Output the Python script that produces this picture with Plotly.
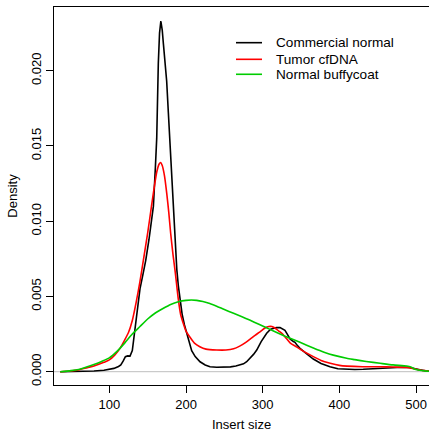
import plotly.graph_objects as go

# Commercial normal (black)
commercial_x = [36, 50, 60, 71, 80, 93, 100, 106, 112, 115, 118, 121, 124, 127, 130, 132, 134.4, 137, 140, 144,
                147.5, 151.8, 155, 157.5, 160, 161.8, 163.9, 165.5, 167.2, 169, 170.5, 172.5, 174.8, 177, 179.1,
                181, 183, 185.7, 188, 190, 192.2, 195, 198, 200.9, 204, 207.4, 212, 218.3, 225, 231.3, 240, 248.6,
                258, 265, 270.4, 275, 279.1, 284, 288, 292.2, 298, 305.2, 310, 313.8, 318, 322.6, 326, 329, 332,
                335.6, 340, 342.1, 345, 348.6, 357, 366, 376, 387.7, 398, 409.5, 420, 431, 442, 453, 464, 474.7,
                482, 489.8, 496, 505, 513.8, 518]
commercial_y = [0, 0.00001, 0.00002, 0.00003, 0.00005, 0.0001, 0.00014, 0.00022, 0.00035, 0.00045, 0.0007, 0.001,
                0.00105, 0.00104, 0.0014, 0.0022, 0.0032, 0.0044, 0.0055, 0.0065, 0.0074, 0.0088, 0.0100, 0.0110,
                0.0135, 0.0155, 0.0205, 0.0225, 0.0233, 0.0227, 0.0218, 0.0207, 0.0193, 0.0172, 0.0152, 0.0128,
                0.0107, 0.0085, 0.0068, 0.0057, 0.0048, 0.0038, 0.0031, 0.0026, 0.0019, 0.0014, 0.0010, 0.00066,
                0.00045, 0.00033, 0.0003, 0.00029, 0.00032, 0.00038, 0.00045, 0.00052, 0.00066, 0.0009, 0.00115,
                0.00144, 0.0020, 0.00255, 0.0028, 0.00288, 0.00293, 0.00293, 0.00285, 0.00275, 0.0025, 0.00218,
                0.0020, 0.00195, 0.00175, 0.00155, 0.0012, 0.00084, 0.00055, 0.00033, 0.0002, 0.00016, 0.00015,
                0.00016, 0.0002, 0.00023, 0.00027, 0.00029, 0.0003, 0.00029, 0.0002, 0.00012, 0.00005, 0.00002]

# Tumor cfDNA (red)
tumor_x = [36, 50, 60, 71.3, 80, 93, 100, 107, 114, 120, 125, 130, 135, 140, 145, 150, 155, 159, 162, 165, 167,
           169, 172, 175, 177.5, 180, 183, 186, 190, 193, 196.5, 200, 205, 211, 218, 226, 240, 252, 262, 270, 278,
           284, 290, 296.5, 303, 308, 312, 316, 321, 326, 331, 336, 344, 355, 366, 376, 388, 400, 410, 430, 453,
           470, 487.7, 495, 500.8, 507, 513.8, 518]
tumor_y = [0, 0.00005, 0.00012, 0.00027, 0.00038, 0.00062, 0.00078, 0.0011, 0.00155, 0.0021, 0.0026, 0.0034,
           0.0046, 0.0060, 0.0076, 0.0092, 0.0110, 0.0124, 0.0133, 0.0138, 0.0139, 0.0137, 0.0130, 0.0118, 0.0106,
           0.0092, 0.0078, 0.0066, 0.0048, 0.0038, 0.0032, 0.0027, 0.0023, 0.0019, 0.00166, 0.0015, 0.00144,
           0.00144, 0.00152, 0.0017, 0.00195, 0.00218, 0.00242, 0.00265, 0.0029, 0.0030, 0.0030, 0.0029, 0.0027,
           0.0025, 0.0022, 0.0019, 0.00165, 0.0013, 0.001, 0.00075, 0.00056, 0.00042, 0.00037, 0.00033, 0.00033,
           0.00031, 0.00029, 0.00022, 0.00016, 0.0001, 0.00006, 0.00003]

# Normal buffycoat (green)
buffy_x = [36, 50, 60, 71.3, 80, 90, 100, 110, 120, 130, 140, 150, 160, 170, 180, 190, 200, 207, 214, 222, 231,
           240, 250, 262, 273, 283, 295, 305, 314, 322.6, 335.6, 348.6, 366, 380, 392, 409.5, 420, 435, 453, 470,
           487.7, 493, 496, 500.8, 507, 513.8, 518]
buffy_y = [0, 0.00007, 0.00015, 0.00033, 0.00048, 0.00068, 0.00092, 0.00135, 0.0019, 0.0025, 0.0030, 0.0035,
           0.0039, 0.0042, 0.00447, 0.00465, 0.00474, 0.00476, 0.00474, 0.00466, 0.00453, 0.00435, 0.00413,
           0.00388, 0.00365, 0.00343, 0.00315, 0.00292, 0.0027, 0.0025, 0.00222, 0.00195, 0.00158, 0.0013,
           0.0011, 0.00089, 0.0008, 0.00068, 0.00056, 0.00045, 0.00038, 0.00032, 0.00023, 0.00013, 0.00008,
           0.00004, 0.00002]

series_names = ["Commercial normal", "Tumor cfDNA", "Normal buffycoat"]
series_colors = ["black", "#FF0000", "#00CC00"]

x_ticks = [100, 200, 300, 400, 500]
y_ticks = [0.0, 0.005, 0.010, 0.015, 0.020]
y_tick_labels = ["0.000", "0.005", "0.010", "0.015", "0.020"]

FONT = "Liberation Sans, Arial, Helvetica, sans-serif"

fig = go.Figure()
fig.add_hline(y=0, line=dict(color="#BEBEBE", width=1), layer="below")
series = [(commercial_x, commercial_y, "linear"), (tumor_x, tumor_y, "spline"), (buffy_x, buffy_y, "spline")]
for (xs, ys, shp), name, col in zip(series, series_names, series_colors):
    line = dict(color=col, width=1.6, shape=shp)
    if shp == "spline":
        line["smoothing"] = 0.6
    fig.add_trace(go.Scatter(x=xs, y=ys, mode="lines", name=name, line=line, showlegend=False))

# manual legend (R style)
leg_rows = [0.9056, 0.8616, 0.8220]
for name, col, yy in zip(series_names, series_colors, leg_rows):
    fig.add_shape(type="line", xref="paper", yref="paper", x0=0.4853, x1=0.5547, y0=yy, y1=yy,
                  line=dict(color=col, width=1.6))
    fig.add_annotation(xref="paper", yref="paper", x=0.5867, y=yy, text=name, showarrow=False,
                       xanchor="left", yanchor="middle", font=dict(size=13.6, color="black"))

fig.update_layout(
    width=429, height=432,
    margin=dict(l=54, r=0, t=7, b=47),
    paper_bgcolor="white", plot_bgcolor="white",
    font=dict(family=FONT, size=13, color="black"),
    xaxis=dict(range=[27.9, 516.8], tickvals=x_ticks, ticks="outside", ticklen=7, tickcolor="black",
               showline=True, linecolor="black", linewidth=1, mirror=True, showgrid=False, zeroline=False,
               automargin=False,
               title=dict(text="Insert size", standoff=18, font=dict(size=13))),
    yaxis=dict(range=[-0.000884, 0.02423], tickvals=y_ticks, ticktext=y_tick_labels, tickangle=-90,
               ticks="outside", ticklen=7, tickcolor="black", showline=True, linecolor="black", linewidth=1,
               showgrid=False, zeroline=False, automargin=False,
               title=dict(text="Density", standoff=8, font=dict(size=13))),
)

fig.write_html("out.html")
